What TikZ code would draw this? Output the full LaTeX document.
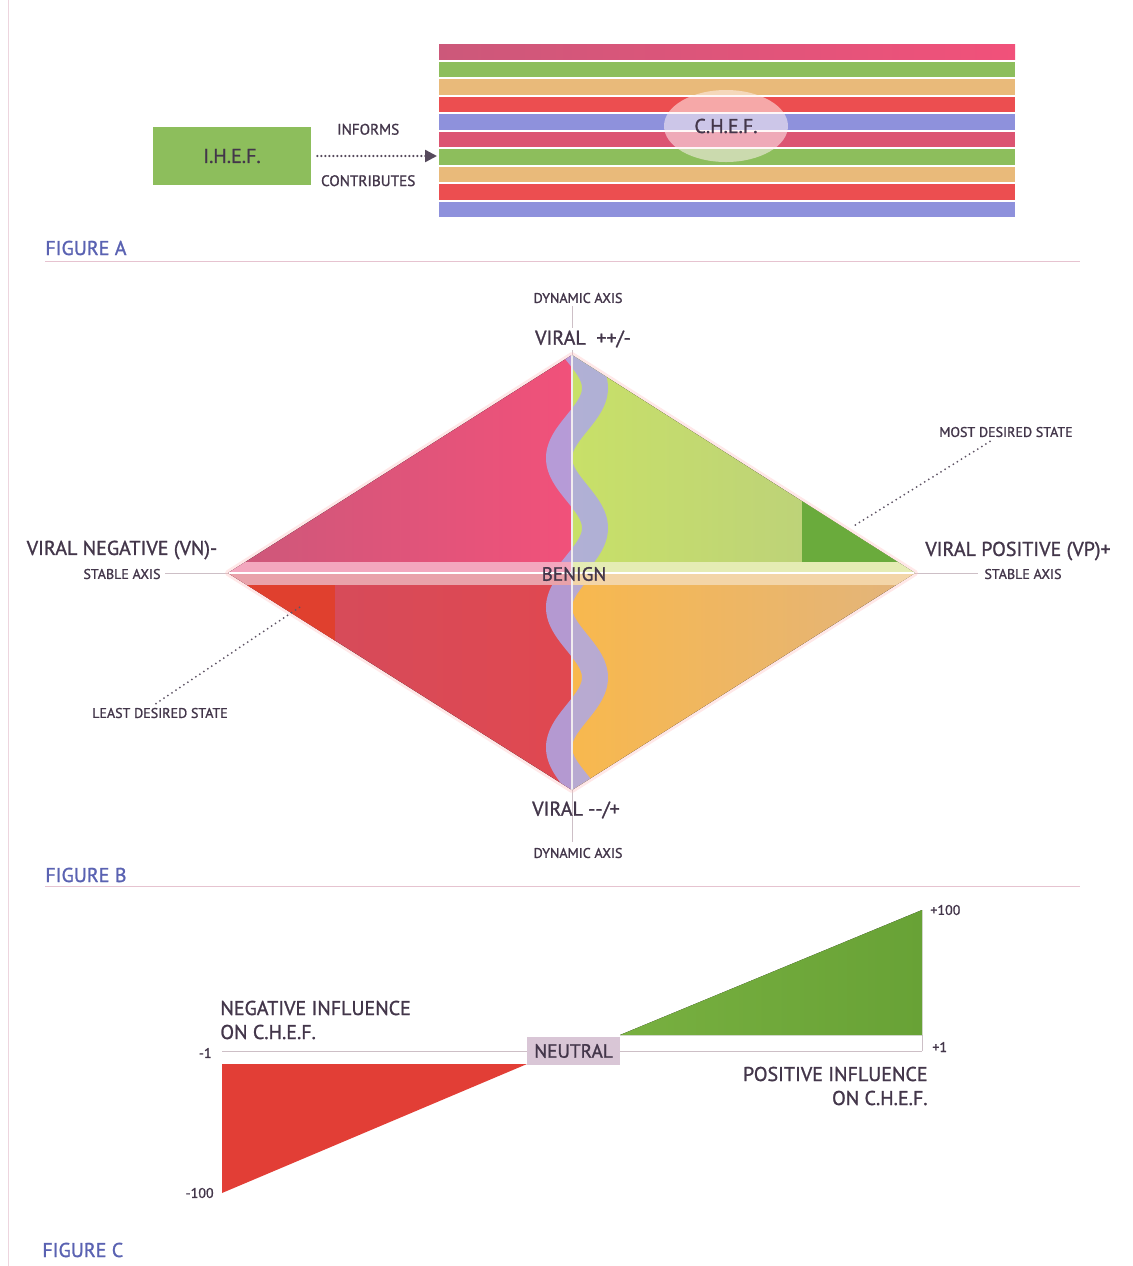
\documentclass[tikz,border=0pt]{standalone}
\usepackage{fontspec}
\setmainfont{PT Sans}
\newfontfamily\lblfont{PT Sans}[FakeBold=1.2]
\definecolor{ink}{HTML}{43364A}
\definecolor{figblue}{HTML}{5A62B2}
\definecolor{rulepink}{HTML}{E6C3D0}
\definecolor{axisgray}{HTML}{CDBFC6}
\definecolor{leaf}{HTML}{8DBE5C}
\definecolor{rose}{HTML}{DC5472}
\definecolor{sand}{HTML}{E9BA7A}
\definecolor{scarlet}{HTML}{EC4E50}
\definecolor{periwinkle}{HTML}{8E91DC}
\definecolor{roseL}{HTML}{CC587A}
\definecolor{roseR}{HTML}{F1517A}
\definecolor{limeL}{HTML}{C8E068}
\definecolor{limeR}{HTML}{B8CC80}
\definecolor{redL}{HTML}{D24C5E}
\definecolor{redR}{HTML}{E04850}
\definecolor{amberL}{HTML}{F8B84E}
\definecolor{amberR}{HTML}{E2B47C}
\definecolor{deepgreen}{HTML}{6AAB3C}
\definecolor{deepred}{HTML}{E0402E}
\definecolor{lilac}{HTML}{ADA8E8}
\definecolor{neutralbox}{HTML}{D9C6D6}
\definecolor{bandTL}{HTML}{F3A7BE}
\definecolor{bandTR}{HTML}{E5ECB4}
\definecolor{bandBL}{HTML}{E9A2AA}
\definecolor{bandBR}{HTML}{F3D5A8}
\definecolor{gainL}{HTML}{78B040}
\definecolor{gainR}{HTML}{68A236}
\definecolor{loss}{HTML}{E23E36}
\usetikzlibrary{arrows.meta, positioning, shapes.geometric}
\tikzset{
  lbl/.style={font=\lblfont\fontsize{7}{8}\selectfont, text=ink, inner sep=1pt},
  midlbl/.style={font=\lblfont\fontsize{7.6}{9}\selectfont, text=ink, inner sep=1pt},
  biglbl/.style={font=\lblfont\fontsize{10}{12}\selectfont, text=ink, inner sep=1pt},
  figtitle/.style={font=\lblfont\fontsize{10}{12}\selectfont, text=figblue, anchor=west, inner sep=0pt},
  stripe/.style={line width=0pt},
  figrule/.style={draw=rulepink, line width=0.5pt},
  axisline/.style={draw=axisgray, line width=0.5pt},
  leader/.style={draw=ink!85, line width=1pt, dash pattern=on 0pt off 2.4pt, line cap=round},
  dotflow/.style={-{Triangle[length=6pt,width=6pt]}, draw=ink!90, line width=1.2pt,
                  dash pattern=on 0pt off 2pt, line cap=round},
}
\begin{document}
\begin{tikzpicture}[x=0.5pt,y=-0.5pt,
        box/.style={fill=leaf,minimum width=79pt,minimum height=29pt,font=\lblfont\fontsize{10}{12}\selectfont,text=ink},
        oval/.style={ellipse,fill=white!80!pink,fill opacity=0.55,text opacity=1,minimum width=62pt,minimum height=36pt,
                     font=\lblfont\fontsize{10}{12}\selectfont,text=ink},
        wave/.style={draw=lilac,line width=13pt,opacity=0.85}]
  \useasboundingbox (0,0) rectangle (1133,1266);
  \fill[white] (0,0) rectangle (1133,1266);
  \draw[rulepink!70] (8,0) -- (8,1266);

  % figure A
  \fill[stripe,left color=roseL,right color=roseR] (439,44) rectangle (1015,59.5);
  \fill[stripe,leaf] (439,61.5) rectangle (1015,77);
  \fill[stripe,sand] (439,79) rectangle (1015,94.5);
  \fill[stripe,scarlet] (439,96.5) rectangle (1015,112);
  \fill[stripe,periwinkle] (439,114) rectangle (1015,129.5);
  \fill[stripe,rose] (439,131.5) rectangle (1015,147);
  \fill[stripe,leaf] (439,149) rectangle (1015,164.5);
  \fill[stripe,sand] (439,166.5) rectangle (1015,182);
  \fill[stripe,scarlet] (439,184) rectangle (1015,199.5);
  \fill[stripe,periwinkle] (439,201.5) rectangle (1015,217);
  \node[oval] (chef) at (726,126) {C.H.E.F.};
  \node[box] (ihef) at (232,156) {I.H.E.F.};
  \coordinate (stripes) at (437,156);
  \draw[dotflow,shorten <=3pt] (ihef.east)--node[midlbl,above=9pt,xshift=-3pt] {INFORMS}
        node[midlbl,below=8pt,xshift=-3pt] {CONTRIBUTES} (stripes);
  \node[figtitle] (figa) at (45,248) {FIGURE A};
  \draw[figrule] (45,261) -- (1080,261);

  % figure B
  \coordinate (dtop) at (572,355);
  \coordinate (dbot) at (572,790);
  \coordinate (dleft) at (228,573);
  \coordinate (dright) at (915,573);
  \draw[axisline] (572,306) -- (dtop);
  \draw[axisline] (dbot) -- (572,842);
  \draw[axisline] (165,573) -- (dleft);
  \draw[axisline] (dright) -- (978,573);
  \draw[draw=pink,line width=3pt,opacity=0.35,line join=round] (dtop)--(dright)--(dbot)--(dleft)--cycle;
  \fill[left color=roseL,right color=roseR] (dleft)--(dtop)--(572,573)--cycle;
  \fill[left color=limeL,right color=limeR] (dtop)--(dright)--(572,573)--cycle;
  \fill[left color=redL,right color=redR] (dleft)--(572,573)--(dbot)--cycle;
  \fill[left color=amberL,right color=amberR] (572,573)--(dright)--(dbot)--cycle;
  \begin{scope}
    \clip (dtop)--(dright)--(dbot)--(dleft)--cycle;
    \fill[deepgreen] (802,480) rectangle (920,562);
    \fill[deepred] (220,585) rectangle (335,660);
    \draw[wave] plot[domain=335:570,samples=120,variable=\t] ({577+18*sin(2.5714*(\t-353))},{\t});
    \draw[wave] plot[domain=576:810,samples=120,variable=\t] ({577-18*sin(2.5714*(\t-572.5))},{\t});
    \fill[bandTL] (220,562) rectangle (572,573);
    \fill[bandTR] (572,562) rectangle (920,573);
    \fill[bandBL] (220,573) rectangle (572,585);
    \fill[bandBR] (572,573) rectangle (920,585);
    \draw[white,line width=0.8pt] (220,573) -- (920,573);
    \draw[white!70!axisgray,line width=0.6pt] (dtop) -- (dbot);
  \end{scope}
  \node[lbl] (dyntop) at (578,298) {DYNAMIC AXIS};
  \node[biglbl,fill=white] (viraltop) at (583,339) {VIRAL\ \ ++/-};
  \node[biglbl] (viralbot) at (576,810) {VIRAL -{}-/+};
  \node[lbl] (dynbot) at (578,853) {DYNAMIC AXIS};
  \node[biglbl,font=\lblfont\fontsize{9.6}{11}\selectfont] (benign) at (574,574) {BENIGN};
  \node[biglbl] (vn) at (122,550) {VIRAL NEGATIVE (VN)-};
  \node[lbl] (stableL) at (122,574) {STABLE AXIS};
  \node[biglbl] (vp) at (1018,551) {VIRAL POSITIVE (VP)+};
  \node[lbl] (stableR) at (1023,574) {STABLE AXIS};
  \node[lbl] (mds) at (1006,432) {MOST DESIRED STATE};
  \node[lbl] (lds) at (160,713) {LEAST DESIRED STATE};
  \coordinate (mdsTip) at (852,527);
  \coordinate (ldsTip) at (300,607);
  \draw[leader] ([xshift=-8pt,yshift=-1pt]mds.south) -- (mdsTip);
  \draw[leader] ([xshift=-2pt,yshift=1pt]lds.north) -- (ldsTip);
  \node[figtitle] (figb) at (45,875) {FIGURE B};
  \draw[figrule] (45,886) -- (1080,886);

  % figure C
  \draw[axisline] (222,1051) -- (922,1051);
  \draw[axisline] (922,1035) -- (922,1051);
  \fill[left color=gainL,right color=gainR] (620,1035)--(922,1035)--(922,910)--cycle;
  \fill[loss] (222,1064)--(527,1064)--(222,1193)--cycle;
  \node[biglbl,fill=neutralbox,minimum width=46.5pt,minimum height=14pt,inner sep=0pt,
        font=\lblfont\fontsize{9.6}{11}\selectfont] (neutral) at (573.5,1051) {NEUTRAL};
  \node[biglbl,anchor=west,align=left] (neginf) at (218,1020)
        {NEGATIVE INFLUENCE\\ON C.H.E.F.};
  \node[biglbl,anchor=east,align=right] (posinf) at (930,1086)
        {POSITIVE INFLUENCE\\ON C.H.E.F.};
  \node[lbl,anchor=east] (mone) at (214,1053) {-1};
  \node[lbl,anchor=east] (mhundred) at (216,1193) {-100};
  \node[lbl,anchor=west] (pone) at (930,1047) {+1};
  \node[lbl,anchor=west] (phundred) at (928,910) {+100};
  \node[figtitle] (figc) at (42,1250) {FIGURE C};
\end{tikzpicture}
\end{document}
